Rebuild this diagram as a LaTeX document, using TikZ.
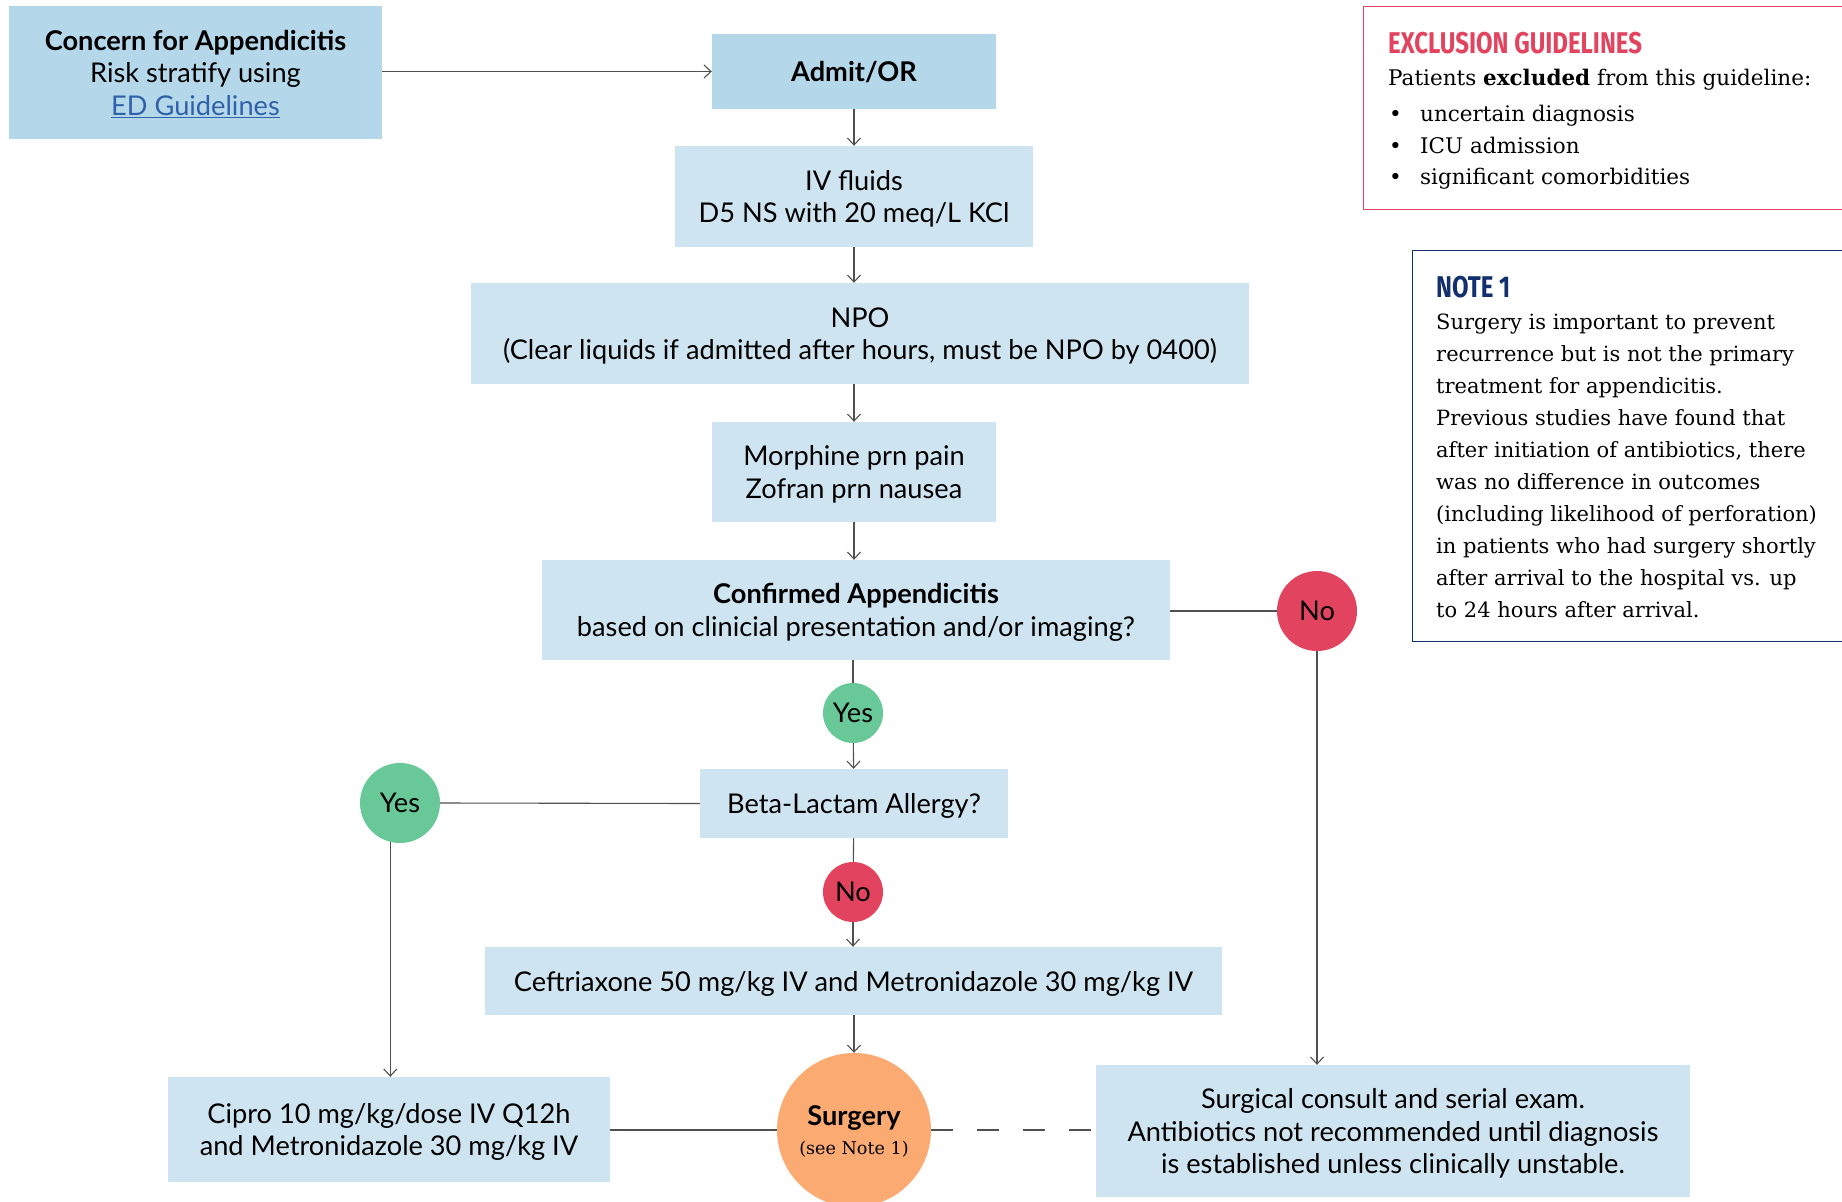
\documentclass[tikz,border=0pt]{standalone}
\usepackage{fontspec}
\usepackage{graphicx}
\setmainfont{Lato}
\newfontfamily\noteserif{DejaVu Serif}
\newfontfamily\condfont{Fira Sans}
\usetikzlibrary{arrows.meta}
\definecolor{boxblue}{HTML}{CFE4F1}
\definecolor{boxdark}{HTML}{B4D7EA}
\definecolor{yesgreen}{HTML}{69C898}
\definecolor{nored}{HTML}{E2445F}
\definecolor{surgorange}{HTML}{FBAB72}
\definecolor{linegray}{HTML}{505050}
\definecolor{navy}{HTML}{13306E}
\definecolor{linkblue}{HTML}{2F62A8}
\newcommand\flowtxt{\fontsize{27.2}{32.5}\selectfont}
\newcommand\notetxt{\noteserif\fontsize{21}{32}\selectfont}
\newcommand\excltxt{\noteserif\fontsize{21.5}{32}\selectfont}
\begin{document}
\begin{tikzpicture}[x=1pt,y=-1pt,
  flow/.style={inner sep=0pt, align=center, font=\flowtxt, text=black, text depth=0pt},
  lbox/.style={flow, fill=boxblue},
  dbox/.style={flow, fill=boxdark},
  circ/.style={circle, inner sep=0pt, font=\flowtxt, text=black},
  conn/.style={draw=linegray, line width=1.1pt},
  arr/.style={conn, -{Straight Barb[length=7pt,width=13pt]}},
  ntext/.style={anchor=base west, inner sep=0pt, font=\notetxt},
  etext/.style={anchor=base west, inner sep=0pt, font=\excltxt},
]
\useasboundingbox (0,0) rectangle (1842,1202);
\clip (0,0) rectangle (1842,1202);

% flow boxes
\node[dbox, minimum width=373pt, minimum height=133pt] (concern) at (195.5,72.5)
  {\textbf{Concern for Appendicitis}\\Risk stratify using\\{\color{linkblue}\underline{ED Guidelines}}};
\node[dbox, minimum width=284pt, minimum height=75pt] (admit) at (854,71.5) {\textbf{Admit/OR}};
\node[lbox, minimum width=358pt, minimum height=101pt] (iv) at (854,196.5) {IV fluids\\D5 NS with 20 meq/L KCl};
\node[lbox, minimum width=778pt, minimum height=101pt] (npo) at (860,333.5) {NPO\\(Clear liquids if admitted after hours, must be NPO by 0400)};
\node[lbox, minimum width=284pt, minimum height=100pt] (morph) at (854,472) {Morphine prn pain\\Zofran prn nausea};
\node[lbox, minimum width=628pt, minimum height=100pt] (conf) at (856,610) {\textbf{Confirmed Appendicitis}\\based on clinicial presentation and/or imaging?};
\node[lbox, minimum width=308pt, minimum height=69pt] (beta) at (854,803.5) {Beta-Lactam Allergy?};
\node[lbox, minimum width=737pt, minimum height=68pt] (ceft) at (853.5,981) {Ceftriaxone 50 mg/kg IV and Metronidazole 30 mg/kg IV};
\node[lbox, minimum width=442pt, minimum height=105pt] (cipro) at (389,1129.5) {Cipro 10 mg/kg/dose IV Q12h\\and Metronidazole 30 mg/kg IV};
\node[lbox, minimum width=594pt, minimum height=132pt] (consult) at (1393,1131) {Surgical consult and serial exam.\\Antibiotics not recommended until diagnosis\\is established unless clinically unstable.};

% circles
\node[circ, fill=yesgreen, minimum size=60pt] (yes1) at (853,713) {Yes};
\node[circ, fill=nored, minimum size=60pt] (no1) at (853,892) {No};
\node[circ, fill=yesgreen, minimum size=80pt] (yesL) at (400,803) {Yes};
\node[circ, fill=nored, minimum size=80pt] (noR) at (1317,611) {No};
\node[circ, fill=surgorange, minimum size=154pt, align=center, text depth=0pt] (surg) at (854,1130)
  {\textbf{Surgery}\\[-3pt]{\noteserif\fontsize{17.6}{22}\selectfont (see Note 1)}};

% connectors
\draw[arr] (concern.east |- admit) -- (admit.west);
\draw[arr] (admit) -- (iv);
\draw[arr] (iv) -- (npo.north -| iv);
\draw[arr] (npo.south -| morph) -- (morph);
\draw[arr] (morph) -- (conf.north -| morph);
\draw[conn] (conf.south -| yes1) -- (yes1);
\draw[arr] (yes1) -- (beta);
\draw[conn] (beta) -- (no1);
\draw[arr] (no1) -- (ceft.north -| no1);
\draw[arr] (ceft.south -| surg) -- (surg);
\draw[conn] (beta.west) -- (yesL.east);
\draw[arr] (yesL.-104) -- (yesL.-104 |- cipro.north);
\draw[conn] (conf.east |- noR) -- (noR);
\draw[arr] (noR) -- (consult.north -| noR);
\draw[conn] (cipro.east |- surg) -- (surg);
\draw[conn, dash pattern=on 22pt off 24pt] (surg) -- (consult.west |- surg);

% exclusion box
\node[draw=nored, line width=1.2pt, fill=white, anchor=north west, inner sep=0pt,
  minimum width=500pt, minimum height=203pt] (exclbox) at (1363,6) {};
\node[anchor=base west, inner sep=0pt, text=nored] (excltitle) at (1388,53)
  {\scalebox{0.8}[1]{\condfont\bfseries\fontsize{30}{30}\selectfont EXCLUSION GUIDELINES}};
\node[etext] (excllead) at (1388,85) {Patients \textbf{excluded} from this guideline:};
\node[etext] (bul1) at (1389,121) {\textbullet};
\node[etext] (ex1) at (1420,121) {uncertain diagnosis};
\node[etext] (bul2) at (1389,153) {\textbullet};
\node[etext] (ex2) at (1420,153) {ICU admission};
\node[etext] (bul3) at (1389,184) {\textbullet};
\node[etext] (ex3) at (1420,184) {significant comorbidities};

% note box
\node[draw=navy, line width=1.2pt, fill=white, anchor=north west, inner sep=0pt,
  minimum width=450pt, minimum height=391pt] (notebox) at (1412,250) {};
\node[anchor=base west, inner sep=0pt, text=navy] (notetitle) at (1436,297)
  {\scalebox{0.8}[1]{\condfont\bfseries\fontsize{30}{30}\selectfont NOTE 1}};
\foreach \t [count=\i] in {
  Surgery is important to prevent,
  recurrence but is not the primary,
  treatment for appendicitis.,
  Previous studies have found that,
  {after initiation of antibiotics, there},
  was no difference in outcomes,
  (including likelihood of perforation),
  in patients who had surgery shortly,
  after arrival to the hospital vs. up,
  to 24 hours after arrival.}
  \node[ntext] (note\i) at (1436,{329+32.1*(\i-1)}) {\t};
\end{tikzpicture}
\end{document}
